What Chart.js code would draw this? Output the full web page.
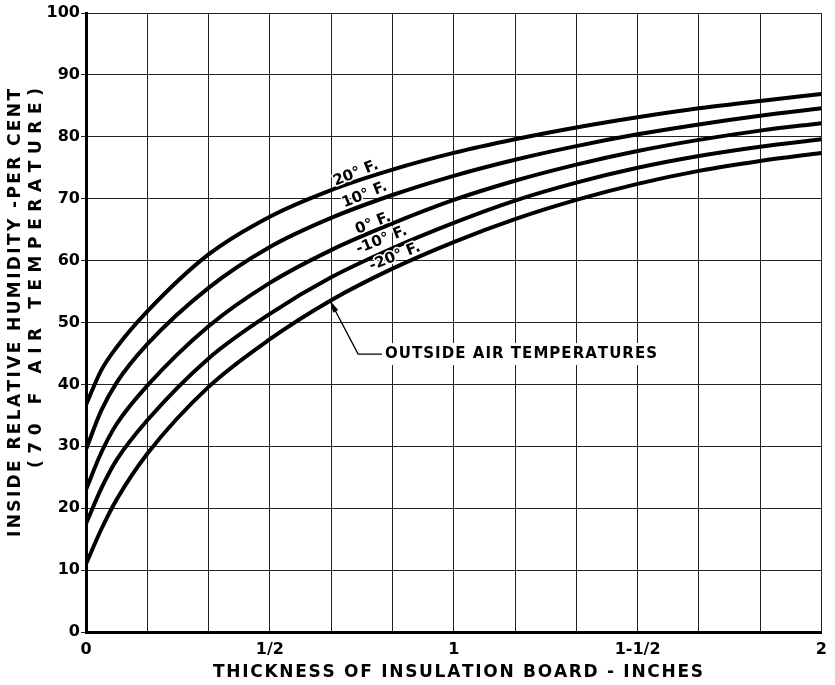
<!DOCTYPE html>
<html>
<head>
<meta charset="utf-8">
<script src="https://cdn.jsdelivr.net/npm/chart.js@4"></script>
<style>
html,body{margin:0;padding:0;background:#fff;}
#wrap{width:835px;height:685px;}
</style>
</head>
<body>
<div id="wrap"><canvas id="chart" width="835" height="685"></canvas></div>
<script>
// ================= DATA =================
// thickness of insulation board (inches)
const thickness = [0, 1/24, 1/12, 1/6, 1/3, 1/2, 2/3, 5/6, 1, 7/6, 4/3, 3/2, 5/3, 11/6, 2];

// inside relative humidity (per cent) for each outside air temperature
const rh20  = [36.7, 42.3, 46.0, 51.8, 61.0, 67.1, 71.4, 74.7, 77.4, 79.6, 81.5, 83.15, 84.6, 85.8, 86.9];
const rh10  = [29.5, 35.8, 40.3, 46.5, 55.6, 62.2, 66.9, 70.6, 73.7, 76.3, 78.5, 80.4, 82.0, 83.4, 84.6];
const rh0   = [23.0, 29.0, 33.6, 39.8, 49.4, 56.4, 61.7, 66.0, 69.8, 72.9, 75.5, 77.7, 79.5, 81.0, 82.2];
const rhM10 = [17.5, 23.2, 27.8, 34.2, 44.2, 51.4, 57.3, 62.0, 66.1, 69.7, 72.6, 75.0, 76.9, 78.4, 79.6];
const rhM20 = [11.0, 16.6, 21.4, 28.8, 39.6, 47.3, 53.6, 58.7, 63.0, 66.7, 69.8, 72.4, 74.5, 76.1, 77.4];

const seriesNames = ["20° F.", "10° F.", "0° F.", "-10° F.", "-20° F."];

// grid / tick labels
const xGrid = [0, 1/6, 2/6, 3/6, 4/6, 5/6, 1, 7/6, 8/6, 9/6, 10/6, 11/6, 2];
const xTickLabels = ["0", "", "", "1/2", "", "", "1", "", "", "1-1/2", "", "", "2"];

// where the curve labels sit (data units)
const labelX = [0.734, 0.758, 0.781, 0.804, 0.840];
const labelY = [74.1, 70.6, 66.0, 63.3, 60.6];

const FONT = "DejaVu Sans";

// ================= HELPERS =================
function toPoints(ys){
    return thickness.map((x, i) => ({x: x, y: ys[i]}));
}

// draw text centred on (cx, cy), stretched to a given width
function drawSpaced(ctx, text, cx, cy, width){
    const chars = text.split("");
    const widths = chars.map(c => ctx.measureText(c).width);
    const sum = widths.reduce((a, b) => a + b, 0);
    const gap = chars.length > 1 ? (width - sum) / (chars.length - 1) : 0;
    let x = cx - width / 2;
    ctx.textAlign = "left";
    ctx.textBaseline = "middle";
    chars.forEach((c, i) => {
        ctx.fillText(c, x, cy);
        x += widths[i] + gap;
    });
}

// ================= PLUGINS =================
const background = {
    id: "background",
    beforeDraw(chart){
        const ctx = chart.ctx;
        ctx.save();
        ctx.fillStyle = "#fff";
        ctx.fillRect(0, 0, chart.width, chart.height);
        ctx.restore();
    }
};

const notes = {
    id: "notes",
    afterDatasetsDraw(chart){
        const ctx = chart.ctx;
        const xs = chart.scales.x, ys = chart.scales.y;
        const px = v => xs.getPixelForValue(v);
        const py = v => ys.getPixelForValue(v);

        // curve labels
        ctx.save();
        ctx.font = "bold 15px " + FONT;
        ctx.textAlign = "center";
        ctx.textBaseline = "middle";
        ctx.lineJoin = "round";
        seriesNames.forEach((name, i) => {
            ctx.save();
            ctx.translate(px(labelX[i]), py(labelY[i]));
            ctx.rotate(-22 * Math.PI / 180);
            ctx.strokeStyle = "#fff";
            ctx.lineWidth = 3;
            ctx.strokeText(name, 0, 0);
            ctx.fillStyle = "#000";
            ctx.fillText(name, 0, 0);
            ctx.restore();
        });
        ctx.restore();

        // leader to "outside air temperatures"
        const tip = {x: px(0.663), y: py(53.6)};
        const elbow = {x: px(0.74), y: py(44.9)};
        const end = {x: px(0.805), y: py(44.9)};

        ctx.save();
        ctx.fillStyle = "#fff";
        ctx.fillRect(end.x + 1, end.y - 11, 278, 22);

        ctx.strokeStyle = "#000";
        ctx.lineWidth = 1.3;
        ctx.beginPath();
        ctx.moveTo(tip.x, tip.y);
        ctx.lineTo(elbow.x, elbow.y);
        ctx.lineTo(end.x, end.y);
        ctx.stroke();

        const ang = Math.atan2(elbow.y - tip.y, elbow.x - tip.x);
        ctx.fillStyle = "#000";
        ctx.beginPath();
        ctx.moveTo(tip.x, tip.y);
        ctx.lineTo(tip.x + 13 * Math.cos(ang - 0.22), tip.y + 13 * Math.sin(ang - 0.22));
        ctx.lineTo(tip.x + 13 * Math.cos(ang + 0.22), tip.y + 13 * Math.sin(ang + 0.22));
        ctx.closePath();
        ctx.fill();

        ctx.font = "bold 15px " + FONT;
        drawSpaced(ctx, "OUTSIDE AIR TEMPERATURES", end.x + 3 + 136, end.y, 272);
        ctx.restore();
    },
    afterDraw(chart){
        const ctx = chart.ctx;
        ctx.save();
        ctx.fillStyle = "#000";
        ctx.font = "bold 17px " + FONT;

        // x title
        drawSpaced(ctx, "THICKNESS OF INSULATION BOARD - INCHES", 458, 673, 490);

        // y title, two lines
        ctx.save();
        ctx.translate(16, 313);
        ctx.rotate(-Math.PI / 2);
        drawSpaced(ctx, "INSIDE RELATIVE HUMIDITY -PER CENT", 0, 0, 448);
        ctx.restore();

        ctx.save();
        ctx.translate(37, 278);
        ctx.rotate(-Math.PI / 2);
        drawSpaced(ctx, "(70 F AIR TEMPERATURE)", 0, 0, 380);
        ctx.restore();

        ctx.restore();
    }
};

// ================= CHART =================
const lineStyle = {
    borderColor: "#000",
    borderWidth: 4,
    pointRadius: 0,
    fill: false,
    cubicInterpolationMode: "monotone"
};

const chart = new Chart(document.getElementById("chart"), {
    type: "line",
    data: {
        datasets: [
            {label: seriesNames[0], data: toPoints(rh20), ...lineStyle},
            {label: seriesNames[1], data: toPoints(rh10), ...lineStyle},
            {label: seriesNames[2], data: toPoints(rh0), ...lineStyle},
            {label: seriesNames[3], data: toPoints(rhM10), ...lineStyle},
            {label: seriesNames[4], data: toPoints(rhM20), ...lineStyle}
        ]
    },
    options: {
        responsive: false,
        animation: false,
        events: [],
        layout: {padding: {top: 13, right: 13, left: 0, bottom: 0}},
        plugins: {
            legend: {display: false},
            tooltip: {enabled: false}
        },
        scales: {
            x: {
                type: "linear",
                min: 0,
                max: 2,
                afterBuildTicks: s => { s.ticks = xGrid.map(v => ({value: v})); },
                afterFit: s => { s.height = 53; },
                grid: {color: "#222", lineWidth: 1, drawTicks: false},
                border: {color: "#000", width: 3},
                ticks: {
                    autoSkip: false,
                    maxRotation: 0,
                    padding: 8,
                    color: "#000",
                    font: {family: FONT, size: 16, weight: "bold"},
                    callback: (v, i) => xTickLabels[i]
                }
            },
            y: {
                min: 0,
                max: 100,
                afterFit: s => { s.width = 86; },
                grid: {color: "#222", lineWidth: 1, tickLength: 5},
                border: {color: "#000", width: 3},
                ticks: {
                    stepSize: 10,
                    padding: 1,
                    color: "#000",
                    font: {family: FONT, size: 16, weight: "bold"}
                }
            }
        }
    },
    plugins: [background, notes]
});
</script>
</body>
</html>
